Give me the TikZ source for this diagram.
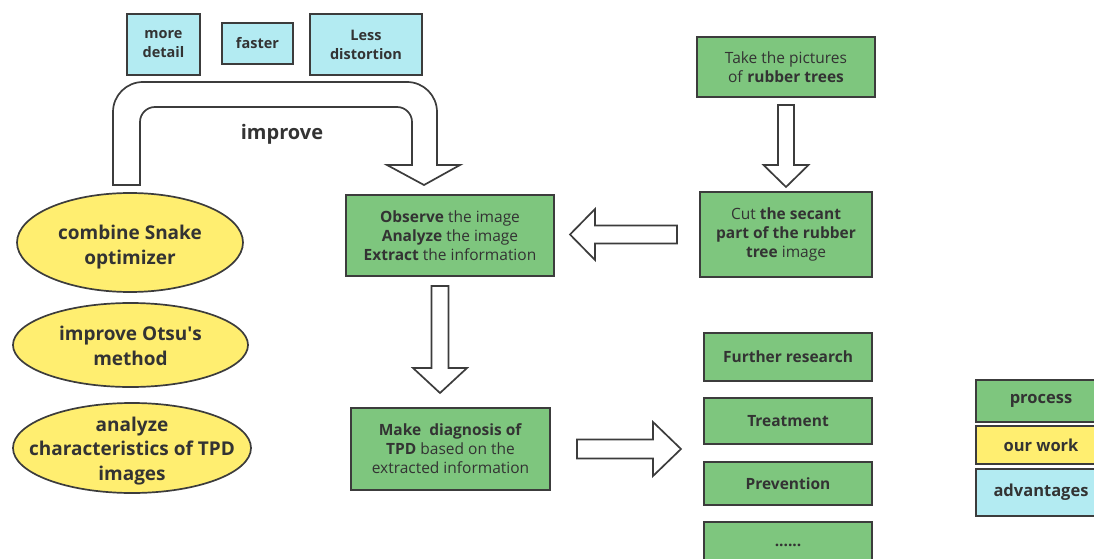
\documentclass[tikz,border=0pt]{standalone}
\usepackage{fontspec}
\setmainfont{Open Sans}
\usetikzlibrary{shapes.geometric,calc}
\definecolor{gfill}{HTML}{7EC67E}
\definecolor{yfill}{HTML}{FFEE70}
\definecolor{cfill}{HTML}{B3EBF2}
\definecolor{ln}{HTML}{3C3C3C}
\definecolor{txt}{HTML}{333333}
\begin{document}
\begin{tikzpicture}[x=1pt,y=-1pt,
  every node/.style={text=txt, inner sep=0pt, outer sep=0pt},
  box/.style={draw=ln, line width=1.7pt, rectangle, align=center},
  gbox/.style={box, fill=gfill, font=\fontsize{15.5}{19}\selectfont},
  gbold/.style={gbox, font=\bfseries\fontsize{15.5}{19}\selectfont},
  cbox/.style={box, fill=cfill, font=\bfseries\fontsize{14.5}{19}\selectfont},
  ell/.style={draw=ln, line width=1.7pt, ellipse, fill=yfill},
  elltext/.style={align=center, font=\bfseries\fontsize{19}{24.5}\selectfont},
  legend/.style={box, font=\bfseries\fontsize{16.5}{20}\selectfont, minimum width=130, minimum height=#1},
  blk/.style={draw=ln, fill=white, line width=1.7pt, line join=miter}
]
\useasboundingbox (0,0) rectangle (1094,559);

% advantages (cyan)
\node[cbox, minimum width=73, minimum height=61] (md) at (163.5,44.5) {more\\detail};
\node[cbox, minimum width=71, minimum height=41] (fa) at (257.5,43.5) {faster};
\node[cbox, minimum width=112, minimum height=61] (ld) at (366,44.5) {Less\\distortion};

% our work (ellipses)
\node[ell, minimum width=226, minimum height=99] (e1) at (130,242.5) {};
\node[elltext] (e1t) at (130,247) {combine Snake\\optimizer};
\node[ell, minimum width=235, minimum height=84] (e2) at (130.5,345) {};
\node[elltext] (e2t) at (130.5,346) {improve Otsu\textquotesingle s\\method};
\node[ell, minimum width=238, minimum height=90] (e3) at (132,448) {};
\node[elltext] (e3t) at (132,451) {analyze\\characteristics of TPD\\images};

% process boxes
\node[gbox, minimum width=178, minimum height=60] (take) at (786,67) {Take the pictures\\of \textbf{rubber trees}};
\node[gbox, minimum width=172, minimum height=85] (cut) at (786,234.5) {Cut \textbf{the secant}\\\textbf{part of the rubber}\\\textbf{tree} image};
\node[gbox, minimum width=208, minimum height=81] (obs) at (450,235.5) {\textbf{Observe} the image\\\textbf{Analyze} the image\\\textbf{Extract} the information};
\node[gbox, minimum width=199, minimum height=82] (make) at (450.5,449) {\textbf{Make\ \ diagnosis of}\\\textbf{TPD} based on the\\extracted information};
\node[gbold, minimum width=168, minimum height=48] (fr) at (788,357) {Further research};
\node[gbold, minimum width=168, minimum height=46] (tr) at (788,421) {Treatment};
\node[gbold, minimum width=168, minimum height=43] (pv) at (788,483.5) {Prevention};
\node[gbold, minimum width=168, minimum height=46] (dots) at (788,545) {......};

% legend
\node[legend=42, fill=gfill] (lp) at (1041,401) {\raisebox{-2pt}{process}};
\node[legend=38, fill=yfill] (lw) at (1041,445) {our work};
\node[legend=47, fill=cfill] (la) at (1041,492.5) {\raisebox{-1pt}{advantages}};

% U-shaped "improve" arrow
\draw[blk] (113,185) -- (113,112) .. controls (113,95.4) and (126.4,82) .. (143,82)
  -- (407,82) .. controls (423.6,82) and (437,95.4) .. (437,112)
  -- (437,165) -- (460,165) -- (424,185) -- (387,165) -- (412,165)
  -- (412,122) .. controls (412,113.7) and (405.3,107) .. (397,107)
  -- (155,107) .. controls (146.7,107) and (140,113.7) .. (140,122)
  -- (140,185) -- cycle;
\node[font=\bfseries\fontsize{20}{24}\selectfont] (imp) at (282,134) {improve};

% take -> cut
\draw[blk] let \p1=($(take.south)+(0,8)$), \p2=($(cut.north)+(0,-5)$) in
  (\x1-8pt,\y1) -- (\x1+8pt,\y1) -- (\x1+8pt,\y2+22pt) -- (\x1+22.5pt,\y2+22pt)
  -- (\x1,\y2) -- (\x1-22.5pt,\y2+22pt) -- (\x1-8pt,\y2+22pt) -- cycle;

% cut -> obs
\draw[blk] let \p1=($(cut.west)+(-23,0)$), \p2=($(obs.east)+(16,0)$) in
  (\x1,\y1-9pt) -- (\x1,\y1+9pt) -- (\x2+25pt,\y1+9pt) -- (\x2+25pt,\y1+25.5pt)
  -- (\x2,\y1) -- (\x2+25pt,\y1-25.5pt) -- (\x2+25pt,\y1-9pt) -- cycle;

% obs -> make
\draw[blk] let \p1=($(obs.south)+(-10,10)$), \p2=($(make.north)+(-10.5,-15)$) in
  (\x1-8.5pt,\y1) -- (\x1+8.5pt,\y1) -- (\x1+8.5pt,\y2+25pt) -- (\x1+27pt,\y2+25pt)
  -- (\x1,\y2) -- (\x1-27pt,\y2+25pt) -- (\x1-8.5pt,\y2+25pt) -- cycle;

% make -> outcomes
\draw[blk] let \p1=($(make.east)+(27,0)$), \p2=($(tr.west)+(-23,0)$) in
  (\x1,\y1-9.5pt) -- (\x1,\y1+9.5pt) -- (\x2-28pt,\y1+9.5pt) -- (\x2-28pt,\y1+27pt)
  -- (\x2,\y1) -- (\x2-28pt,\y1-27pt) -- (\x2-28pt,\y1-9.5pt) -- cycle;
\end{tikzpicture}
\end{document}
